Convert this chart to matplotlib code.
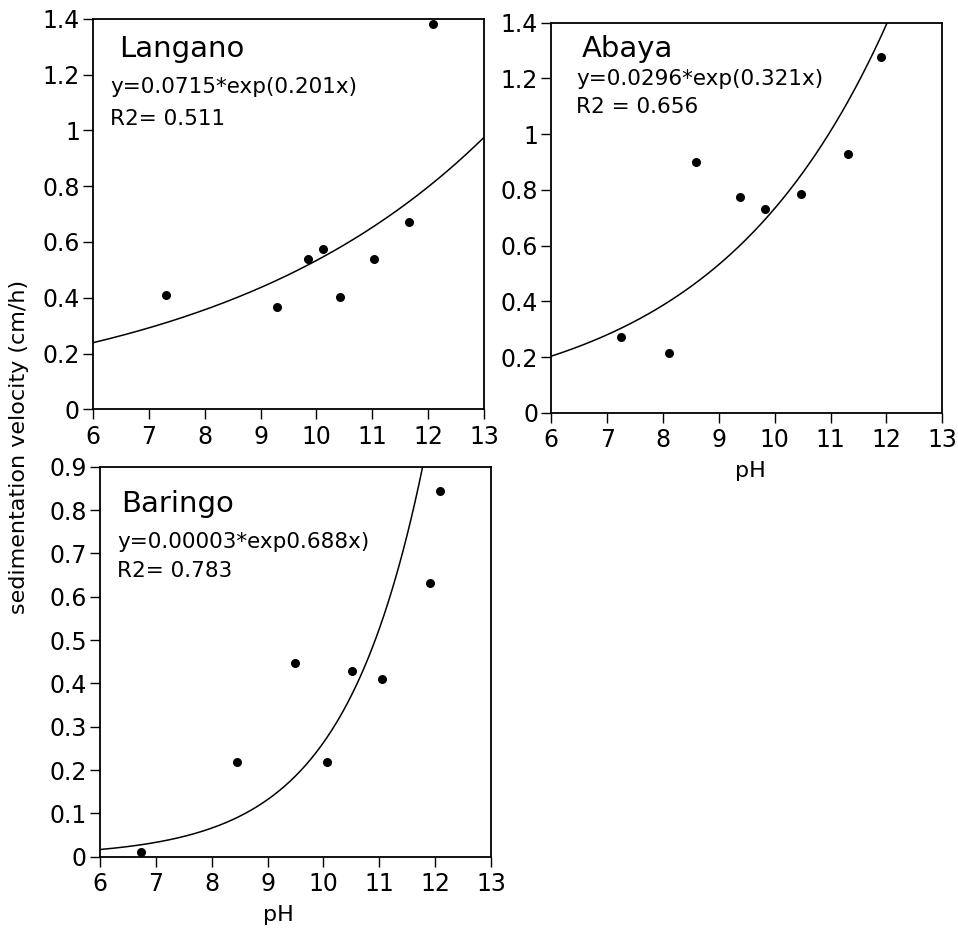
import numpy as np
import matplotlib
matplotlib.use("Agg")
import matplotlib.pyplot as plt

plt.rcParams['font.family'] = ['DejaVu Sans']

# lake names and fit labels
lakes = ["Langano", "Abaya", "Baringo"]
equations = ["y=0.0715*exp(0.201x)", "y=0.0296*exp(0.321x)", "y=0.00003*exp0.688x)"]
r2_labels = ["R2= 0.511", "R2 = 0.656", "R2= 0.783"]

# measured points (pH, sedimentation velocity cm/h)
langano_ph = [7.31, 9.30, 9.85, 10.11, 10.42, 11.03, 11.66, 12.08]
langano_v = [0.41, 0.368, 0.54, 0.576, 0.403, 0.54, 0.672, 1.381]

abaya_ph = [7.24, 8.11, 8.59, 9.38, 9.83, 10.47, 11.31, 11.90]
abaya_v = [0.273, 0.213, 0.899, 0.774, 0.731, 0.786, 0.930, 1.277]

baringo_ph = [6.73, 8.46, 9.50, 10.06, 10.51, 11.05, 11.90, 12.08]
baringo_v = [0.010, 0.219, 0.448, 0.219, 0.429, 0.411, 0.631, 0.845]

# exponential fit coefficients (a, b) of the drawn curves
fit_a = [0.0715, 0.0296, 0.00026]
fit_b = [0.201, 0.321, 0.692]

y_max = [1.4, 1.4, 0.9]
y_step = [0.2, 0.2, 0.1]

fig = plt.figure(figsize=(9.58, 9.34), dpi=100)

positions = [
    [0.0971, 0.5618, 0.4081, 0.4179],
    [0.5755, 0.5581, 0.4081, 0.4176],
    [0.1044, 0.0828, 0.4081, 0.4175],
]
title_pos = [(0.066, 0.903), (0.078, 0.913), (0.053, 0.885)]
eq_pos = [(0.043, 0.810, 0.728), (0.063, 0.840, 0.769), (0.043, 0.791, 0.718)]
xlabel_x = [None, 0.51, 0.455]

xs = [langano_ph, abaya_ph, baringo_ph]
ys = [langano_v, abaya_v, baringo_v]

for i in range(3):
    ax = fig.add_axes(positions[i])
    xx = np.linspace(6, 13, 300)
    ax.plot(xx, fit_a[i] * np.exp(fit_b[i] * xx), color="black", lw=1.1)
    ax.scatter(xs[i], ys[i], s=30, color="black", zorder=3)

    ax.set_xlim(6, 13)
    ax.set_ylim(0, y_max[i])
    ax.set_xticks(range(6, 14))
    yt = np.round(np.arange(0, y_max[i] + 1e-9, y_step[i]), 2)
    ax.set_yticks(yt)
    ax.set_yticklabels([("%g" % v) for v in yt])

    for sp in ax.spines.values():
        sp.set_linewidth(1.3)
    ax.tick_params(axis="x", direction="out", length=7, width=1, pad=4, labelsize=17)
    ax.tick_params(axis="y", direction="out", length=7, width=1, pad=2.5, labelsize=17)

    ax.text(title_pos[i][0], title_pos[i][1], lakes[i], transform=ax.transAxes,
            fontsize=21, ha="left", va="baseline")
    ax.text(eq_pos[i][0], eq_pos[i][1], equations[i], transform=ax.transAxes,
            fontsize=15.5, ha="left", va="baseline")
    ax.text(eq_pos[i][0], eq_pos[i][2], r2_labels[i], transform=ax.transAxes,
            fontsize=15.5, ha="left", va="baseline")

    if i > 0:
        ax.set_xlabel("pH", fontsize=16)
        ax.xaxis.set_label_coords(xlabel_x[i], -0.125)

fig.text(0.02, 1 - 446.5 / 934, "sedimentation velocity (cm/h)", rotation=90,
         fontsize=16, ha="center", va="center")

fig.savefig("out.png", dpi=100, facecolor="white")
